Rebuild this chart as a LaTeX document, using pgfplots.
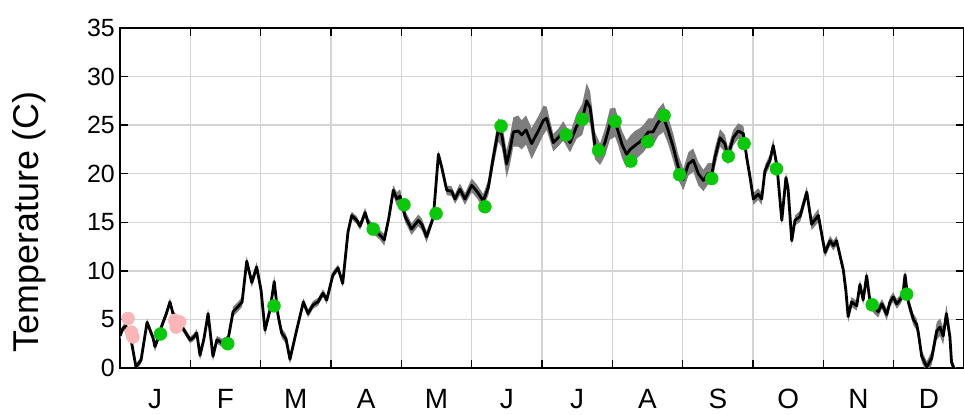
\documentclass[border=0pt]{standalone}
\usepackage{pgfplots}
\pgfplotsset{compat=1.18}
\usepackage{pgfplotstable}
\usepgfplotslibrary{fillbetween}
\usetikzlibrary{calc}
\usepackage{fontspec}
\setmainfont{Liberation Sans}

% daily mean (t) and half width of the band (e)
\pgfplotstableread{
d t e
0 3.3 0.35
1.3 4.1 0.35
2.6 4.3 0.35
4.8 2.9 0.35
6.9 0.1 0.35
9.1 0.8 0.35
11.7 4.7 0.4
14.3 3.1 0.4
15.1 2.2 0.5
16.4 3.0 0.4
17.7 4.1 0.4
19.9 5.5 0.4
21.6 6.8 0.4
22.9 5.6 0.4
26.4 4.4 0.35
30.3 2.9 0.35
31.6 3.1 0.35
33.2 3.6 0.4
34.6 1.3 0.5
36.3 3.0 0.4
38.1 5.6 0.5
40.2 1.2 0.5
41.9 2.9 0.4
44.1 2.6 0.4
46.7 2.9 0.45
48.9 5.8 0.5
51.0 6.3 0.5
52.8 6.8 0.5
54.8 11.0 0.5
57.0 8.8 0.5
59.1 10.4 0.5
61.0 8.0 0.5
62.7 3.9 0.6
64.9 6.0 0.5
66.7 8.9 0.6
68.3 5.5 0.5
69.9 3.6 0.5
71.8 3.0 0.5
73.5 0.9 0.5
76.4 3.9 0.4
79.3 6.8 0.4
81.3 5.6 0.4
83.5 6.5 0.4
85.6 6.8 0.4
87.8 7.7 0.4
89.4 7.0 0.4
92.1 9.6 0.35
94.3 10.3 0.35
96.3 8.7 0.4
98.6 14.0 0.4
100.2 15.7 0.4
102.4 15.2 0.4
103.8 14.6 0.4
106.0 16.0 0.5
107.4 14.9 0.5
109.5 14.3 0.5
112.4 13.7 0.5
114.3 13.2 0.6
116.3 15.5 0.5
118.2 18.3 0.5
119.7 17.4 0.7
121.1 17.7 0.7
123.3 15.6 0.6
126.1 14.3 0.6
129.0 15.2 0.6
130.5 14.8 0.6
132.6 13.5 0.6
135.5 15.5 0.4
136.7 19.0 0.4
137.7 22.0 0.4
139.1 20.7 0.4
141.3 18.3 0.5
143.4 18.2 0.5
144.9 17.4 0.5
147.0 18.4 0.6
149.2 17.4 0.6
152.1 18.8 0.7
154.3 18.2 0.7
157.1 17.2 0.7
159.3 18.6 0.8
161.3 21.5 1.0
163.6 24.5 1.2
165.1 24.0 1.3
167.2 21.0 1.4
168.7 22.5 1.5
170.1 24.3 1.5
172.2 24.4 1.6
173.7 24.0 1.5
175.6 24.5 1.5
178.0 23.1 1.6
180.9 24.4 1.5
183.1 25.5 1.5
184.5 25.7 1.2
187.4 23.2 0.9
189.5 23.7 0.9
191.7 24.4 1.0
192.9 23.9 1.0
194.6 23.2 1.0
197.5 24.9 1.3
199.9 25.6 1.6
201.8 27.5 1.8
203.3 26.8 1.7
205.4 22.9 1.4
207.6 22.0 1.1
209.7 23.2 1.4
211.9 25.1 1.6
214.1 25.3 1.5
215.5 24.3 1.4
217.1 23.0 1.4
219.1 22.0 1.4
220.6 22.5 1.4
222.7 22.9 1.5
224.9 23.3 1.4
226.3 23.6 1.4
228.5 24.3 1.4
230.5 24.3 1.4
232.8 25.3 1.4
235.0 25.8 1.5
237.0 24.5 1.4
239.3 22.7 1.4
241.4 20.7 1.3
243.6 19.4 1.1
245.8 21.0 1.2
247.9 21.4 1.2
250.1 20.0 1.2
252.3 19.3 1.1
254.3 20.0 1.1
256.0 20.0 1.1
257.3 21.7 1.0
259.5 23.7 0.9
261.6 23.1 0.9
262.9 21.8 0.9
265.2 23.7 0.8
267.4 24.4 0.8
269.6 24.1 0.8
271.0 21.7 0.7
272.5 19.6 0.6
273.9 17.4 0.6
276.0 17.9 0.6
277.5 17.4 0.6
278.9 20.3 0.6
281.1 21.4 0.6
282.5 22.9 0.7
284.1 20.8 0.6
286.2 15.2 0.5
288.0 19.6 0.5
288.9 18.5 0.5
290.5 13.1 0.5
291.9 15.2 0.5
294.1 15.6 0.6
297.0 18.1 0.6
299.1 14.8 0.6
302.0 15.7 0.7
304.9 11.9 0.5
307.1 13.1 0.5
308.5 12.6 0.5
309.9 13.1 0.5
312.8 10.1 0.5
313.9 8.0 0.6
314.9 5.3 0.6
316.4 6.8 0.5
318.6 6.4 0.5
320.0 8.6 0.5
321.4 7.0 0.5
322.9 9.5 0.5
324.3 6.9 0.5
326.1 6.2 0.6
327.9 5.8 0.6
329.5 6.6 0.5
331.6 5.5 0.6
333.0 6.8 0.5
334.4 7.3 0.5
335.9 6.6 0.5
337.3 7.0 0.5
338.6 7.6 0.5
339.5 9.6 0.5
340.9 6.8 0.6
343.1 5.0 0.6
344.5 4.5 0.6
345.2 3.7 0.6
346.7 1.2 0.6
348.9 0.1 0.6
351.0 1.0 0.7
353.2 3.8 0.9
354.6 4.2 0.9
356.0 3.3 0.9
357.4 5.6 0.9
358.9 3.2 0.6
359.6 0.6 0.5
361.1 -0.3 0.4
363.3 -0.5 0.3
365 -0.5 0.3
}\tempdata

\pgfplotstableread{
d t
17.5 3.5
46.6 2.5
66.6 6.4
109.5 14.3
122.8 16.8
136.7 15.9
157.8 16.6
164.8 24.9
192.9 24.0
199.9 25.6
207.0 22.4
214.1 25.4
220.9 21.3
228.2 23.3
235.3 26.0
242.0 19.9
255.9 19.5
263.1 21.8
269.9 23.1
283.9 20.5
325.3 6.5
340.2 7.6
}\greendots

\pgfplotstableread{
d t
3.5 5.1
4.9 3.7
5.6 3.2
23.7 4.9
25.8 4.75
24.3 4.2
}\pinkdots

\definecolor{bandgray}{RGB}{125,125,125}
\definecolor{dotgreen}{RGB}{12,200,12}
\definecolor{dotpink}{RGB}{250,182,182}
\definecolor{gridgray}{RGB}{212,212,212}

\begin{document}
\begin{tikzpicture}
\begin{axis}[
    name=main,
    scale only axis,
    width=844bp,
    height=340bp,
    xmin=0, xmax=365,
    ymin=0, ymax=35,
    ytick={0,5,...,35},
    xtick={0,30.42,60.83,91.25,121.67,152.08,182.5,212.92,243.33,273.75,304.17,334.58,365},
    xticklabels={},
    minor x tick num=3,
    extra x ticks={15.21,45.63,76.04,106.46,136.88,167.29,197.71,228.13,258.54,288.96,319.38,349.79},
    extra x tick labels={J,F,M,A,M,J,J,A,S,O,N,D},
    extra x tick style={xmajorgrids=false, major tick length=0pt,
        xticklabel style={font=\fontsize{28}{28}\selectfont, yshift=-18bp}},
    xmajorgrids, ymajorgrids,
    major grid style={line width=1.5bp, draw=gridgray},
    tick align=inside,
    major tick length=8bp,
    minor tick length=8bp,
    every tick/.style={black, line width=1.5bp},
    axis line style={line width=1.5bp},
    yticklabel style={font=\fontsize{25}{25}\selectfont, inner sep=0pt, xshift=-5bp},
    /pgf/number format/assume math mode=true,
    ylabel={Temperature (C)},
    ylabel style={font=\fontsize{36}{36}\selectfont, at={(axis description cs:-0.108,0.43)}, anchor=center},
]

\addplot[draw=none, name path=hi, forget plot] table[x=d, y expr=\thisrow{t}+\thisrow{e}] {\tempdata};
\addplot[draw=none, name path=lo, forget plot] table[x=d, y expr=\thisrow{t}-\thisrow{e}] {\tempdata};
\addplot[fill=bandgray, draw=none] fill between[of=hi and lo];

\addplot[black, line width=2.8bp, line join=round] table[x=d, y=t] {\tempdata};

\addplot[only marks, mark=*, mark size=6.5bp, color=dotpink, mark options={draw=none}] table[x=d, y=t] {\pinkdots};
\addplot[only marks, mark=*, mark size=6.5bp, color=dotgreen, mark options={draw=none}] table[x=d, y=t] {\greendots};

\end{axis}
\pgfresetboundingbox
\path[use as bounding box] ($(main.south west)+(-120bp,-47bp)$) rectangle ($(main.north east)+(0bp,28bp)$);
\end{tikzpicture}
\end{document}
